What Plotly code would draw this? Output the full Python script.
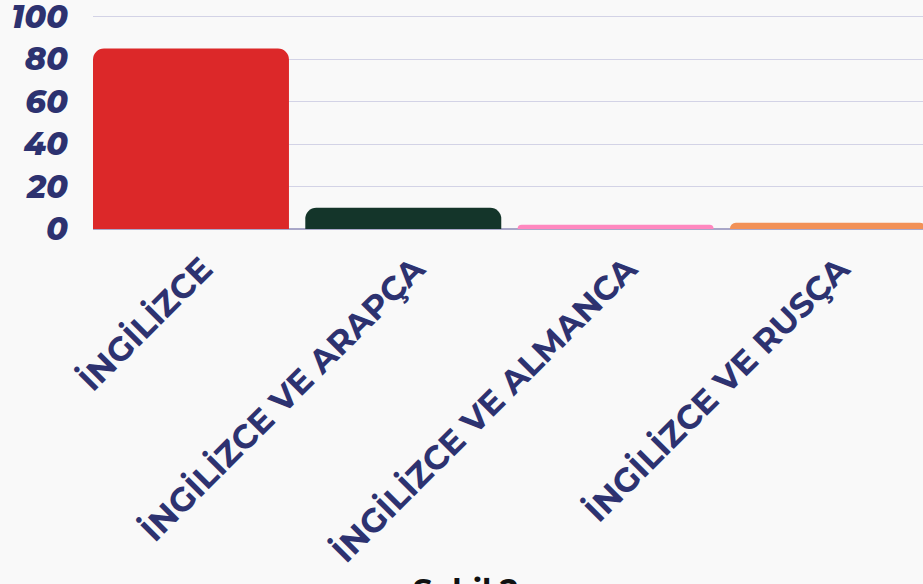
import plotly.graph_objects as go

categories = ["İNGİLİZCE", "İNGİLİZCE VE ARAPÇA", "İNGİLİZCE VE ALMANCA", "İNGİLİZCE VE RUSÇA"]
values = [85, 10, 2, 3]
colors = ["#dc2829", "#14352a", "#ff88bf", "#f29157"]
y_ticks = [0, 20, 40, 60, 80, 100]
title_text = "Şekil 2"

navy = "#2d3270"
font_family = "Montserrat, 'Open Sans', sans-serif"

fig = go.Figure(
    go.Bar(
        x=list(range(len(categories))),
        y=values,
        marker=dict(color=colors, line=dict(width=0)),
        width=0.923,
        hoverinfo="skip",
    )
)

fig.update_layout(
    width=923,
    height=584,
    margin=dict(l=93, r=0, t=15, b=355, autoexpand=False),
    paper_bgcolor="#f9f9f9",
    plot_bgcolor="#f9f9f9",
    barcornerradius=11,
    showlegend=False,
    xaxis=dict(
        tickmode="array",
        tickvals=list(range(len(categories))),
        ticktext=categories,
        range=[-0.4615, 3.448],
        tickangle=-45,
        tickfont=dict(family=font_family, size=33, color=navy, weight=700),
        showgrid=False,
        zeroline=False,
        showline=False,
        ticks="",
        ticklen=0,
        automargin=False,
        ticklabelstandoff=13,
        ticklabelshift=12,
    ),
    yaxis=dict(
        range=[0, 100.8],
        tickvals=y_ticks,
        tickfont=dict(family=font_family, size=32, color=navy, weight=800, style="italic"),
        gridcolor="#d3d3e6",
        gridwidth=1,
        zeroline=True,
        zerolinecolor="#a9a7c8",
        zerolinewidth=1.5,
        showline=False,
        ticks="",
        ticklabelstandoff=24,
        ticklabeloverflow="allow",
        automargin=False,
    ),
    annotations=[
        dict(
            text=title_text,
            x=0.449,
            xref="paper",
            y=-1.587,
            yref="paper",
            xanchor="center",
            yanchor="top",
            showarrow=False,
            font=dict(family=font_family, size=31, color="#111111", weight=700),
        )
    ],
)

fig.write_html(
    "out.html",
    config={"displayModeBar": False},
    post_script="document.body.style.margin='0';document.body.style.background='#f9f9f9';",
)
